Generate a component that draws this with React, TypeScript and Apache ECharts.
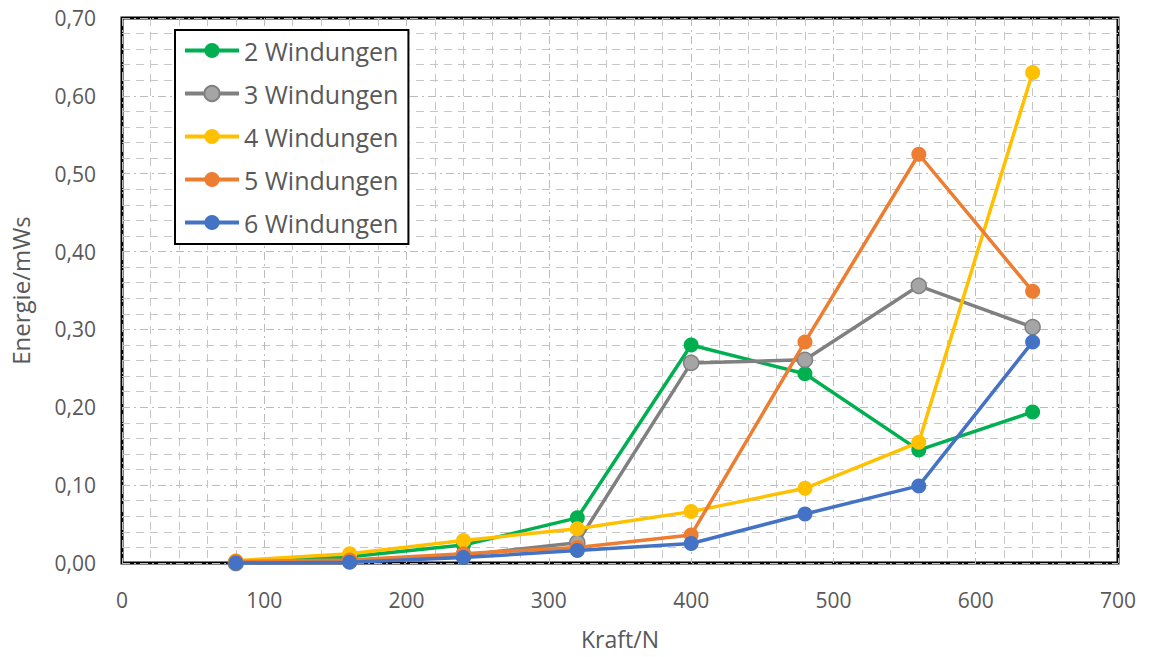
import React, { useEffect, useRef } from "react";
import * as echarts from "echarts";

const forces = [80, 160, 240, 320, 400, 480, 560, 640];
const seriesNames = ["2 Windungen", "3 Windungen", "4 Windungen", "5 Windungen", "6 Windungen"];
const w2 = [0.0, 0.008, 0.023, 0.058, 0.28, 0.243, 0.145, 0.194];
const w3 = [0.0, 0.003, 0.01, 0.026, 0.257, 0.261, 0.356, 0.303];
const w4 = [0.003, 0.012, 0.029, 0.044, 0.066, 0.096, 0.155, 0.63];
const w5 = [0.002, 0.004, 0.012, 0.02, 0.036, 0.284, 0.525, 0.349];
const w6 = [0.0, 0.001, 0.007, 0.016, 0.025, 0.063, 0.099, 0.284];
const seriesValues = [w2, w3, w4, w5, w6];
const lineColors = ["#00B050", "#808080", "#FFC000", "#ED7D31", "#4472C4"];
const markerColors = ["#00B050", "#A5A5A5", "#FFC000", "#ED7D31", "#4472C4"];

const FONT = "'Open Sans', 'Liberation Sans', sans-serif";
const TXT = "#595959";

export default function App() {
  const ref = useRef<HTMLDivElement>(null);
  useEffect(() => {
    document.body.style.margin = "0";
    if (!ref.current) return;
    const chart = echarts.init(ref.current, null, { renderer: "svg" });
    const gridLine = { show: true, lineStyle: { color: "#BBBBBB", type: [8, 4, 2, 4] as any, width: 1 } };
    const minorLine = { show: true, lineStyle: { color: "#C6C6C6", type: [8, 6] as any, width: 1 } };
    chart.setOption({
      animation: false,
      textStyle: { fontFamily: FONT },
      grid: {
        left: 122,
        right: 32,
        top: 18,
        bottom: 94,
        show: true,
        borderColor: "#000",
        borderWidth: 3,
        backgroundColor: "#fff",
      },
      legend: {
        orient: "vertical",
        left: 175,
        top: 30,
        data: seriesNames,
        itemWidth: 54,
        itemHeight: 19,
        itemGap: 18,
        padding: [8, 10, 9, 8],
        borderColor: "#000",
        borderWidth: 2,
        backgroundColor: "#fff",
        lineStyle: { width: 4 },
        textStyle: { fontSize: 25, lineHeight: 25, color: TXT, fontFamily: FONT },
      },
      xAxis: {
        type: "value",
        min: 0,
        max: 700,
        interval: 100,
        name: "Kraft/N",
        nameLocation: "middle",
        nameGap: 64,
        nameTextStyle: { fontSize: 23, color: TXT, fontFamily: FONT },
        axisLine: { show: false },
        axisTick: { show: false },
        axisLabel: { fontSize: 21, color: TXT, margin: 26, fontFamily: FONT },
        splitLine: gridLine,
        minorTick: { show: false, splitNumber: 5 },
        minorSplitLine: minorLine,
      },
      yAxis: {
        type: "value",
        min: 0,
        max: 0.7,
        interval: 0.1,
        name: "Energie/mWs",
        nameLocation: "middle",
        nameGap: 90,
        nameTextStyle: { fontSize: 24, color: TXT, fontFamily: FONT },
        axisLine: { show: false },
        axisTick: { show: false },
        axisLabel: {
          fontSize: 21,
          color: TXT,
          margin: 26,
          fontFamily: FONT,
          formatter: (v: number) => v.toFixed(2).replace(".", ","),
        },
        splitLine: gridLine,
        minorTick: { show: false, splitNumber: 5 },
        minorSplitLine: minorLine,
      },
      series: seriesNames.map((name, i) => ({
        name,
        type: "line",
        data: forces.map((f, j) => [f, seriesValues[i][j]]),
        symbol: "circle",
        symbolSize: 15,
        lineStyle: { color: lineColors[i], width: 3.5 },
        itemStyle: {
          color: markerColors[i],
          borderColor: lineColors[i],
          borderWidth: i === 1 ? 1.5 : 0,
        },
        z: 2 + i,
      })),
    });
    return () => chart.dispose();
  }, []);
  return <div ref={ref} style={{ width: 1150, height: 657 }} />;
}
